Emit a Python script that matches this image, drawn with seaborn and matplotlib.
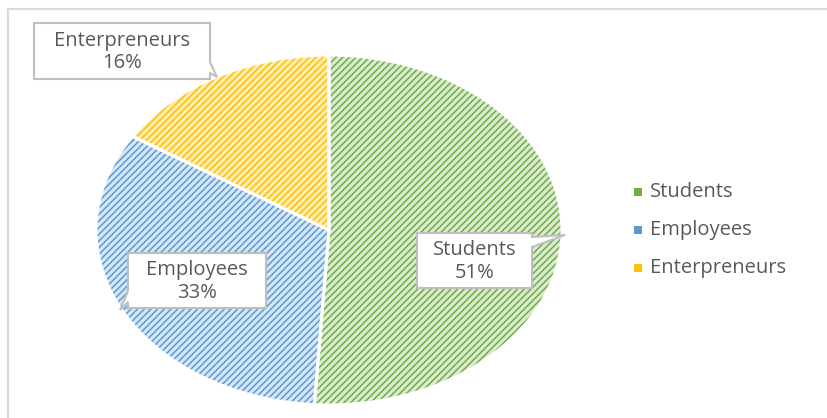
import matplotlib
matplotlib.use("Agg")
import matplotlib.pyplot as plt
import seaborn as sns
from matplotlib.patches import Rectangle, Polygon

categories = ["Students", "Employees", "Enterpreneurs"]
values = [51, 33, 16]
main_colors = ["#70AD47", "#5B9BD5", "#FFC000"]
light_colors = ["#dbebd0", "#d6e6f6", "#ffedb3"]

sns.set_theme(style="white")
plt.rcParams["font.family"] = ["Open Sans", "DejaVu Sans"]
plt.rcParams["hatch.linewidth"] = 1.1

W, H = 828, 418
fig = plt.figure(figsize=(W / 100, H / 100), dpi=100)


def fp(x, y):
    return (x / W, 1 - y / H)


# chart frame
fig.patches.append(Rectangle((8 / W, -0.1), 1.2, (H - 9) / H + 0.1, transform=fig.transFigure,
                             fill=False, edgecolor="#d9d9d9", linewidth=1.5))

ax = fig.add_axes([96 / W, (H - 405) / H, 466 / W, 350 / H])
wedges, _ = ax.pie(values, colors=light_colors, startangle=90, counterclock=False,
                   wedgeprops=dict(linewidth=0, hatch="/////"), radius=1)
for w, c in zip(wedges, main_colors):
    w.set_edgecolor(c)
    w.set_linewidth(0)
ax.pie(values, colors=["none"] * 3, startangle=90, counterclock=False,
       wedgeprops=dict(linewidth=2.2, edgecolor="white", fill=False), radius=1)
ax.set_aspect("auto")
ax.set_xlim(-1, 1)
ax.set_ylim(-1, 1)
ax.axis("off")

# callout labels: box (left, top, right, bottom), pointer side and tip
pct = [f"{v}%" for v in values]
boxes = [(417, 233, 532, 288), (128, 253, 266, 308), (34, 23, 210, 79)]
pointers = [("R", 237, 247, (565, 235)), ("L", 302, 291, (120, 310)), ("R", 62, 73, (217, 77))]
for cat, p, (l, t, r, b), (side, y1, y2, tip) in zip(categories, pct, boxes, pointers):
    if side == "R":
        pts = [(l, t), (r, t), (r, y1), tip, (r, y2), (r, b), (l, b)]
    else:
        pts = [(l, t), (r, t), (r, b), (l, b), (l, y1), tip, (l, y2)]
    fig.patches.append(Polygon([fp(x, y) for x, y in pts], closed=True, transform=fig.transFigure,
                               facecolor="white", edgecolor="#bfbfbf", linewidth=1.5))
    cx, cy = fp((l + r) / 2, (t + b) / 2 + 1)
    fig.text(cx, cy, f"{cat}\n{p}", ha="center", va="center", fontsize=14.5,
             color="#595959", linespacing=1.15)

# legend
leg_y = [192, 230, 268]
for cat, c, y in zip(categories, main_colors, leg_y):
    fig.patches.append(Rectangle((634 / W, 1 - (y + 4) / H), 8 / W, 8 / H,
                                 transform=fig.transFigure, facecolor=c, edgecolor="none"))
    fig.text(650 / W, 1 - y / H, cat, fontsize=14.5, color="#595959", va="center", ha="left")

fig.savefig("out.png", dpi=100)
